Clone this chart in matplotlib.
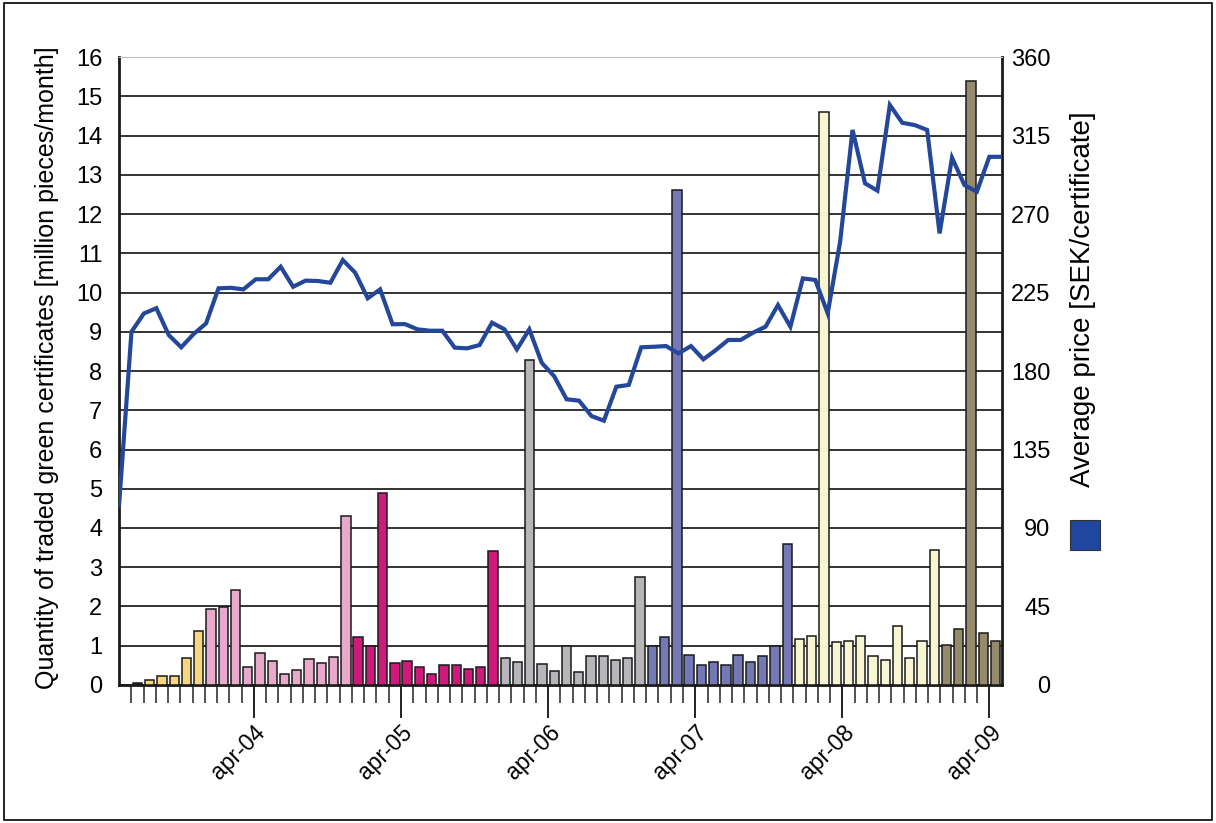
import numpy as np
import matplotlib.pyplot as plt
from matplotlib.patches import Rectangle

plt.rcParams['font.family'] = ['Liberation Sans', 'DejaVu Sans']

# monthly traded quantity [million pieces/month], one bar per month
quantity = [0, 0.05, 0.13, 0.24, 0.24, 0.68, 1.38, 1.94, 1.99, 2.42,
            0.46, 0.82, 0.61, 0.27, 0.38, 0.65, 0.56, 0.72, 4.3, 1.23,
            0.99, 4.88, 0.56, 0.6, 0.47, 0.28, 0.52, 0.52, 0.4, 0.47,
            3.41, 0.69, 0.58, 8.28, 0.54, 0.36, 0.99, 0.33, 0.73, 0.73,
            0.64, 0.69, 2.76, 0.99, 1.22, 12.6, 0.77, 0.52, 0.58, 0.52,
            0.77, 0.58, 0.73, 0.99, 3.58, 1.18, 1.25, 14.6, 1.09, 1.13,
            1.25, 0.73, 0.64, 1.5, 0.69, 1.13, 3.43, 1.03, 1.43, 15.4,
            1.32, 1.13]

# average price [SEK/certificate]
price = [103, 202.5, 213, 216, 200.6, 193.6, 201.2, 207.3, 227.4, 227.7,
         226.8, 232.6, 232.6, 239.8, 228.3, 231.8, 231.6, 230.6, 243.6, 236.3,
         221.7, 226.8, 206.8, 206.9, 203.9, 203.1, 203.1, 193.4, 193, 194.9,
         207.7, 203.9, 192.4, 203.9, 184.7, 177, 163.8, 163, 154.2, 151.5,
         171, 172, 193.6, 193.9, 194.3, 190.1, 194.3, 186.7, 192, 197.8,
         197.8, 202, 205.4, 217.8, 205.4, 233.1, 232.2, 213.1, 254.1, 318.2,
         287.6, 283.4, 332.5, 322.3, 321, 318.2, 258.9, 302.3, 286.6, 282.8,
         302.8, 302.8]

# colour groups of the bars (months per group)
group_sizes = [2, 5, 12, 12, 12, 12, 12, 5]
group_colors = ['#262626', '#f6d77f', '#e8aacb', '#cf1a7c', '#b6b6ba',
                '#7479b5', '#f8f5d2', '#958b6a']

xlabels = ['apr-04', 'apr-05', 'apr-06', 'apr-07', 'apr-08', 'apr-09']

n = len(quantity)
x = np.arange(n)
colors = np.repeat(group_colors, group_sizes)

fig = plt.figure(figsize=(12.16, 8.23), dpi=100)
ax = fig.add_axes([0.0979, 0.1677, 0.7259, 0.763])

ax.set_axisbelow(True)
ax.yaxis.grid(True, color='#333333', lw=1.4)
ax.bar(x, quantity, width=0.76, color=colors, edgecolor='#1a1a1a', lw=1.1, zorder=3)

ax.set_xlim(-0.5, n - 0.5)
ax.set_ylim(0, 16)
ax.set_yticks(range(0, 17))
ax.tick_params(axis='y', length=0, pad=12, labelsize=17)

major = np.arange(10.5, n, 12)
ax.set_xticks(major)
ax.set_xticklabels(xlabels, rotation=45, ha='right', va='top', fontsize=16.5,
                   rotation_mode='anchor')
ax.set_xticks(np.arange(0.5, n - 1, 1), minor=True)
ax.tick_params(axis='x', which='major', length=24, width=1.4, pad=2, color='#222')
ax.tick_params(axis='x', which='minor', length=13, width=1.2, color='#333')

for s in ['left', 'bottom', 'right']:
    ax.spines[s].set_linewidth(2)
    ax.spines[s].set_color('#1a1a1a')
ax.spines['top'].set_color('#c0c0c0')

ax.set_ylabel('Quantity of traded green certificates [million pieces/month]',
              fontsize=18)
ax.yaxis.label.set_verticalalignment('center')
ax.yaxis.set_label_coords(-0.0816, 0.5056)

ax2 = ax.twinx()
xl = np.linspace(-0.5, n - 0.5, n)
ax2.plot(xl, price, color='#24479a', lw=3, solid_joinstyle='miter', zorder=5)
ax2.set_ylim(0, 360)
ax2.set_yticks(range(0, 361, 45))
ax2.tick_params(axis='y', length=0, pad=35, labelsize=17)
for lab in ax2.get_yticklabels():
    lab.set_horizontalalignment('right')
for s in ax2.spines.values():
    s.set_visible(False)
ax2.set_ylabel('Average price [SEK/certificate]', fontsize=20)
ax2.yaxis.label.set_verticalalignment('center')
ax2.yaxis.set_label_coords(1.092, 0.615)

# legend swatch for the price line
fig.patches.append(Rectangle((1070 / 1216, 1 - 550 / 823), 30 / 1216, 30 / 823,
                             transform=fig.transFigure, facecolor='#1f47a0',
                             edgecolor='#333', lw=0.8))

# frame round the picture
fig.patches.append(Rectangle((0.003, 0.004), 0.994, 0.992, transform=fig.transFigure,
                             fill=False, edgecolor='black', lw=1.2))

fig.savefig('out.png', dpi=100, facecolor='white')
